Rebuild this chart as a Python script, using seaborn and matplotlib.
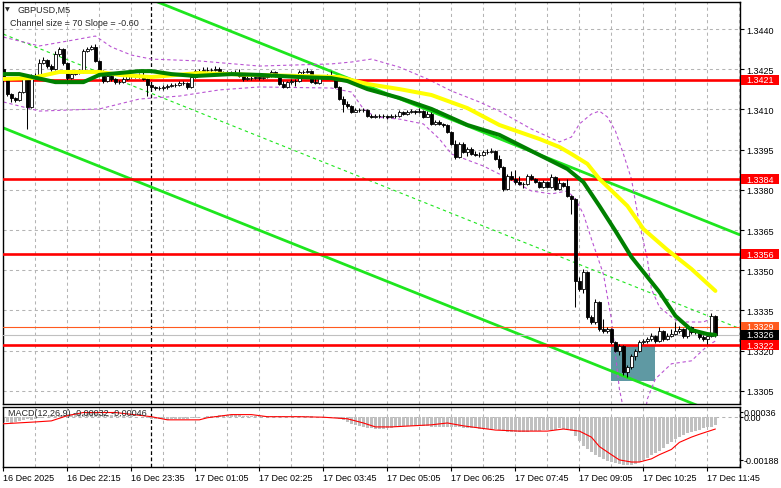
import numpy as np
import matplotlib
matplotlib.use("Agg")
import matplotlib.pyplot as plt
import matplotlib.transforms as mtransforms
from matplotlib.patches import Rectangle
import seaborn as sns

# -------------------------------------------------
# DATA  (GBPUSD M5, one bar per 5 minutes)
# -------------------------------------------------
first_open = 1.34251

close = [
    1.34214, 1.34158, 1.34143, 1.34135, 1.34165, 1.34214, 1.34110, 1.34225, 1.34221, 1.34273,
    1.34284, 1.34262, 1.34251, 1.34307, 1.34326, 1.34273, 1.34217, 1.34232, 1.34240, 1.34240,
    1.34318, 1.34326, 1.34333, 1.34281, 1.34243, 1.34206, 1.34225, 1.34214, 1.34202, 1.34202,
    1.34214, 1.34225, 1.34225, 1.34225, 1.34229, 1.34214, 1.34191, 1.34184, 1.34180, 1.34180,
    1.34184, 1.34187, 1.34191, 1.34191, 1.34199, 1.34199, 1.34184, 1.34221, 1.34243, 1.34243,
    1.34247, 1.34247, 1.34247, 1.34251, 1.34236, 1.34236, 1.34236, 1.34236, 1.34236, 1.34225,
    1.34214, 1.34217, 1.34217, 1.34221, 1.34217, 1.34221, 1.34225, 1.34240, 1.34225, 1.34195,
    1.34184, 1.34202, 1.34206, 1.34206, 1.34240, 1.34240, 1.34243, 1.34202, 1.34199, 1.34217,
    1.34221, 1.34225, 1.34221, 1.34184, 1.34139, 1.34120, 1.34113, 1.34091, 1.34098, 1.34098,
    1.34098, 1.34076, 1.34072, 1.34076, 1.34076, 1.34076, 1.34072, 1.34076, 1.34076, 1.34091,
    1.34083, 1.34091, 1.34094, 1.34091, 1.34094, 1.34072, 1.34083, 1.34046, 1.34053, 1.34046,
    1.34042, 1.34016, 1.33971, 1.33923, 1.33971, 1.33941, 1.33952, 1.33934, 1.33930, 1.33930,
    1.33941, 1.33941, 1.33945, 1.33915, 1.33885, 1.33803, 1.33852, 1.33841, 1.33829, 1.33822,
    1.33822, 1.33852, 1.33841, 1.33829, 1.33811, 1.33829, 1.33811, 1.33848, 1.33803, 1.33826,
    1.33815, 1.33777, 1.33766, 1.33460, 1.33430, 1.33494, 1.33326, 1.33307, 1.33382, 1.33281,
    1.33274, 1.33281, 1.33233, 1.33199, 1.33218, 1.33121, 1.33139, 1.33180, 1.33199, 1.33233,
    1.33236, 1.33244, 1.33255, 1.33236, 1.33274, 1.33244, 1.33255, 1.33262, 1.33274, 1.33281,
    1.33255, 1.33288, 1.33270, 1.33274, 1.33251, 1.33244, 1.33255, 1.33330, 1.33259,
]

high = [
    1.34258, 1.34217, 1.34161, 1.34147, 1.34169, 1.34217, 1.34221, 1.34232, 1.34236, 1.34288,
    1.34296, 1.34288, 1.34270, 1.34318, 1.34333, 1.34329, 1.34277, 1.34240, 1.34247, 1.34251,
    1.34326, 1.34333, 1.34340, 1.34344, 1.34284, 1.34247, 1.34232, 1.34229, 1.34217, 1.34210,
    1.34221, 1.34232, 1.34232, 1.34232, 1.34236, 1.34243, 1.34217, 1.34195, 1.34187, 1.34187,
    1.34191, 1.34195, 1.34199, 1.34199, 1.34206, 1.34206, 1.34202, 1.34229, 1.34251, 1.34251,
    1.34258, 1.34258, 1.34255, 1.34262, 1.34258, 1.34243, 1.34243, 1.34243, 1.34247, 1.34251,
    1.34229, 1.34225, 1.34225, 1.34229, 1.34225, 1.34229, 1.34232, 1.34247, 1.34243, 1.34229,
    1.34206, 1.34206, 1.34214, 1.34214, 1.34247, 1.34247, 1.34255, 1.34247, 1.34217, 1.34225,
    1.34229, 1.34232, 1.34243, 1.34225, 1.34187, 1.34150, 1.34132, 1.34117, 1.34106, 1.34106,
    1.34106, 1.34102, 1.34083, 1.34083, 1.34083, 1.34083, 1.34079, 1.34083, 1.34083, 1.34098,
    1.34094, 1.34098, 1.34102, 1.34098, 1.34106, 1.34098, 1.34094, 1.34091, 1.34061, 1.34061,
    1.34049, 1.34046, 1.34020, 1.33986, 1.33978, 1.33978, 1.33960, 1.33960, 1.33945, 1.33941,
    1.33949, 1.33952, 1.33956, 1.33949, 1.33930, 1.33889, 1.33859, 1.33870, 1.33874, 1.33852,
    1.33829, 1.33859, 1.33859, 1.33845, 1.33833, 1.33837, 1.33833, 1.33859, 1.33852, 1.33841,
    1.33829, 1.33841, 1.33781, 1.33770, 1.33475, 1.33505, 1.33497, 1.33333, 1.33393, 1.33385,
    1.33318, 1.33288, 1.33284, 1.33236, 1.33225, 1.33221, 1.33147, 1.33188, 1.33207, 1.33240,
    1.33244, 1.33251, 1.33266, 1.33259, 1.33288, 1.33277, 1.33266, 1.33281, 1.33307, 1.33292,
    1.33284, 1.33300, 1.33292, 1.33281, 1.33277, 1.33259, 1.33266, 1.33341, 1.33333,
]

low = [
    1.34202, 1.34150, 1.34128, 1.34128, 1.34132, 1.34161, 1.34027, 1.34106, 1.34214, 1.34217,
    1.34270, 1.34255, 1.34243, 1.34247, 1.34299, 1.34266, 1.34210, 1.34214, 1.34229, 1.34232,
    1.34236, 1.34314, 1.34322, 1.34277, 1.34236, 1.34199, 1.34202, 1.34206, 1.34195, 1.34195,
    1.34199, 1.34210, 1.34217, 1.34217, 1.34217, 1.34210, 1.34150, 1.34172, 1.34172, 1.34172,
    1.34172, 1.34176, 1.34184, 1.34184, 1.34187, 1.34191, 1.34176, 1.34180, 1.34217, 1.34236,
    1.34240, 1.34240, 1.34240, 1.34243, 1.34232, 1.34229, 1.34229, 1.34229, 1.34229, 1.34221,
    1.34206, 1.34210, 1.34210, 1.34214, 1.34210, 1.34214, 1.34217, 1.34221, 1.34221, 1.34191,
    1.34180, 1.34180, 1.34195, 1.34187, 1.34202, 1.34232, 1.34236, 1.34199, 1.34195, 1.34195,
    1.34214, 1.34217, 1.34217, 1.34180, 1.34135, 1.34091, 1.34106, 1.34087, 1.34091, 1.34091,
    1.34091, 1.34072, 1.34068, 1.34068, 1.34068, 1.34068, 1.34064, 1.34068, 1.34068, 1.34072,
    1.34079, 1.34079, 1.34087, 1.34083, 1.34087, 1.34068, 1.34072, 1.34042, 1.34042, 1.34042,
    1.34035, 1.34012, 1.33967, 1.33915, 1.33919, 1.33938, 1.33926, 1.33930, 1.33926, 1.33923,
    1.33926, 1.33934, 1.33938, 1.33911, 1.33878, 1.33796, 1.33800, 1.33837, 1.33822, 1.33818,
    1.33807, 1.33818, 1.33837, 1.33826, 1.33807, 1.33807, 1.33807, 1.33807, 1.33800, 1.33800,
    1.33811, 1.33773, 1.33710, 1.33363, 1.33423, 1.33415, 1.33318, 1.33300, 1.33300, 1.33274,
    1.33266, 1.33266, 1.33225, 1.33195, 1.33184, 1.33109, 1.33102, 1.33132, 1.33165, 1.33195,
    1.33225, 1.33229, 1.33236, 1.33229, 1.33233, 1.33236, 1.33240, 1.33251, 1.33259, 1.33266,
    1.33248, 1.33248, 1.33262, 1.33262, 1.33244, 1.33236, 1.33225, 1.33251, 1.33251,
]

# moving averages (bar index, price)
ma_slow_bar = [0, 7, 14, 24, 29, 37, 49, 62, 74, 84, 91, 99, 107, 116, 124, 134, 139, 142, 146,
               149, 156, 160, 166, 172, 178]
ma_slow = [1.34214, 1.34217, 1.34240, 1.34240, 1.34229, 1.34221, 1.34236, 1.34229, 1.34225,
           1.34221, 1.34195, 1.34176, 1.34154, 1.34105, 1.34042, 1.33990, 1.33960, 1.33934,
           1.33897, 1.33841, 1.33740, 1.33654, 1.33576, 1.33505, 1.33423]

ma_fast_bar = [0, 4, 13, 20, 24, 34, 37, 42, 48, 57, 64, 74, 82, 86, 91, 99, 107, 116, 124, 132,
               141, 145, 149, 153, 157, 164, 168, 172, 176, 178]
ma_fast = [1.34232, 1.34232, 1.34202, 1.34202, 1.34229, 1.34243, 1.34243, 1.34232, 1.34225,
           1.34232, 1.34229, 1.34221, 1.34217, 1.34206, 1.34176, 1.34143, 1.34102, 1.34042,
           1.34005, 1.33945, 1.33878, 1.33829, 1.33740, 1.33647, 1.33550, 1.33419, 1.33330,
           1.33277, 1.33262, 1.33259]

# bands (bar index, price)
band_up_bar = [0, 9, 19, 23, 27, 32, 37, 49, 64, 82, 87, 92, 99, 106, 112, 119, 124, 132, 139,
               142, 144, 147, 149, 151, 153, 155, 157, 159, 161, 162, 164, 167, 169, 175, 178]
band_up = [1.34370, 1.34337, 1.34363, 1.34374, 1.34333, 1.34303, 1.34288, 1.34281, 1.34262,
           1.34270, 1.34277, 1.34288, 1.34258, 1.34214, 1.34169, 1.34128, 1.34094, 1.34027,
           1.33979, 1.33997, 1.34046, 1.34083, 1.34094, 1.34072, 1.34020, 1.33934, 1.33841,
           1.33673, 1.33542, 1.33430, 1.33363, 1.33326, 1.33307, 1.33307, 1.33326]

band_dn_bar = [0, 9, 24, 34, 44, 54, 64, 82, 87, 90, 93, 99, 105, 109, 112, 120, 124, 132, 137,
               141, 143, 145, 147, 150, 152, 154, 156, 158, 160, 161, 163, 167, 172, 176, 178]
band_dn = [1.34128, 1.34094, 1.34102, 1.34139, 1.34150, 1.34173, 1.34184, 1.34180, 1.34165,
           1.34102, 1.34072, 1.34064, 1.34046, 1.33990, 1.33934, 1.33889, 1.33859, 1.33796,
           1.33785, 1.33796, 1.33766, 1.33710, 1.33617, 1.33486, 1.33318, 1.33057, 1.32908,
           1.32871, 1.32927, 1.33020, 1.33095, 1.33151, 1.33162, 1.33218, 1.33236]

# price channel (ends)
channel_bar = [0, 184]
channel_top = [1.34731, 1.33633]
channel_mid = [1.34381, 1.33283]
channel_bot = [1.34031, 1.32933]

levels = [1.3421, 1.3384, 1.3356, 1.3322]
ask_price = 1.3329
bid_price = 1.3326
zone_bars = [152, 163]
zone_prices = [1.33087, 1.33222]
day_start_bar = 37

price_ticks = [1.3440, 1.3425, 1.3410, 1.3395, 1.3380, 1.3365, 1.3350, 1.3335, 1.3320, 1.3305]
time_bars = [0, 16, 32, 48, 64, 80, 96, 112, 128, 144, 160, 176]
time_labels = ["16 Dec 2025", "16 Dec 22:15", "16 Dec 23:35", "17 Dec 01:05", "17 Dec 02:25",
               "17 Dec 03:45", "17 Dec 05:05", "17 Dec 06:25", "17 Dec 07:45", "17 Dec 09:05",
               "17 Dec 10:25", "17 Dec 11:45"]

# MACD main values (1e-5 units) and signal line
macd_hist = np.array([
    -20, -22, -24, -22, -18, -14, -10, -12, -8, -5, -2, 0, 2,
    4, 6, 8, 9, 10, 11, 12, 12, 14, 15,
    14, 12, 10, 8, 6, 5, 4, 3,
    2, 1, 0, -1, -3, -5,
    -8, -9, -10, -10, -11, -10, -10, -9, -8, -7, -6, -4,
    -2, 0, 2, 3, 4, 5, 6, 6, 6, 5, 5, 4,
    4, 3, 3, 3, 2, 2, 2, 1, 1, 1, 0, 0, 1, 1, 1,
    1, 1, 0, 0, 0, 0, -1,
    -4, -8, -14, -20, -26, -30, -34,
    -39, -42, -45, -47, -47, -46, -44, -42,
    -40, -38, -37, -36, -35, -35, -35, -36, -37, -38, -38, -39, -39, -40,
    -40, -41, -41, -42, -43,
    -44, -45, -46, -46, -47, -47, -48,
    -52, -55, -57, -58, -59, -59, -58, -57, -55,
    -54, -53, -52, -52, -51, -51,
    -45, -46, -48, -55, -75, -92, -110, -125, -136, -145, -155, -162, -168, -173, -176, -180,
    -183, -186, -186, -181, -174, -165, -157, -148, -140, -131, -119, -106, -96, -86, -77, -70,
    -63, -58, -55, -49, -45, -41, -38, -32,
]) * 1e-5

signal_bar = [0, 8, 12, 16, 20, 28, 37, 41, 49, 51, 57, 62, 66, 74, 80, 86, 90, 93, 97, 102,
              107, 111, 115, 119, 123, 129, 136, 140, 144, 147, 149, 152, 154, 157, 159, 162,
              164, 167, 169, 172, 174, 178]
signal = [-0.00027, -0.00020, -0.00016, 0.00004, 0.00016, 0.00016, 0.0, -0.00012, -0.00012,
          -0.00004, 0.00008, 0.00008, 0.0, 0.0, -0.00002, -0.00008, -0.00024, -0.00039,
          -0.00039, -0.00035, -0.00031, -0.00024, -0.00035, -0.00043, -0.00051, -0.00055,
          -0.00055, -0.00047, -0.00055, -0.00078, -0.00114, -0.00145, -0.00165, -0.00173,
          -0.00173, -0.00161, -0.00145, -0.00125, -0.00098, -0.00078, -0.00067, -0.00047]

# -------------------------------------------------
# STYLE
# -------------------------------------------------
sns.set_theme(style="white")
plt.rcParams["font.family"] = ["Liberation Sans", "DejaVu Sans"]
FS = 6.5
GRID = "#B4B4B4"

fig = plt.figure(figsize=(7.81, 4.89), dpi=100)
W, H = 781, 489
ax = fig.add_axes([3 / W, 1 - 405 / H, 737 / W, 402 / H])
ax2 = fig.add_axes([3 / W, 1 - 468 / H, 737 / W, 60 / H])

xlim = (-0.1, 184.15)
for a in (ax, ax2):
    a.set_xlim(*xlim)
    a.set_facecolor("white")
    for s in a.spines.values():
        s.set_color("black")
        s.set_linewidth(1.0)
    for gx in range(0, 185, 8):
        a.axvline(gx, color=GRID, lw=0.75, ls=(0, (3, 3)), zorder=0)
    a.axvline(day_start_bar, color="black", lw=0.9, ls=(0, (3, 2)), zorder=1)

ax.set_ylim(1.33001, 1.34501)
for p in price_ticks:
    ax.axhline(p, color=GRID, lw=0.75, ls=(0, (3, 3)), zorder=0)

# zone box
ax.add_patch(Rectangle((zone_bars[0], zone_prices[0]), zone_bars[1] - zone_bars[0],
                       zone_prices[1] - zone_prices[0], facecolor="#5F99A3",
                       edgecolor="none", zorder=1))

# channel
sns.lineplot(x=channel_bar, y=channel_top, ax=ax, color="#1EE61E", lw=2.0, zorder=2)
sns.lineplot(x=channel_bar, y=channel_bot, ax=ax, color="#1EE61E", lw=2.0, zorder=2)
sns.lineplot(x=channel_bar, y=channel_mid, ax=ax, color="#1EE61E", lw=0.8,
             linestyle=(0, (3, 3)), zorder=2)

# bands
sns.lineplot(x=band_up_bar, y=band_up, ax=ax, color="#BA55D3", lw=0.8,
             linestyle=(0, (3, 2.5)), zorder=2)
sns.lineplot(x=band_dn_bar, y=band_dn, ax=ax, color="#BA55D3", lw=0.8,
             linestyle=(0, (3, 2.5)), zorder=2)

# levels
for lv in levels:
    ax.axhline(lv, color="#FF0000", lw=1.9, zorder=3)
ax.axhline(ask_price, color="#FF5A1E", lw=0.8, zorder=3)
ax.axhline(bid_price, color="#C0C0C0", lw=0.8, zorder=3)

# candles
close = np.array(close)
opens = np.r_[first_open, close[:-1]]
bars = np.arange(len(close))
up = close >= opens
ax.vlines(bars, low, high, color="black", lw=0.75, zorder=4)
body_lo = np.minimum(opens, close)
body_h = np.maximum(np.abs(close - opens), 0.000012)
ax.bar(bars, body_h, bottom=body_lo, width=0.72, color=np.where(up, "white", "black"),
       edgecolor="black", linewidth=0.6, zorder=5)

# moving averages
sns.lineplot(x=ma_slow_bar, y=ma_slow, ax=ax, color="#FFFF00", lw=2.9, zorder=6)
sns.lineplot(x=ma_fast_bar, y=ma_fast, ax=ax, color="#008000", lw=2.9, zorder=6)

ax.yaxis.tick_right()
ax.set_yticks(price_ticks)
ax.set_yticklabels([f"{p:.4f}" for p in price_ticks])
ax.tick_params(axis="y", direction="out", length=2.9, width=0.8, pad=2.0,
               labelsize=FS, colors="black", right=True)
ax.tick_params(axis="x", bottom=False, labelbottom=False)
ax.set_xlabel("")
ax.set_ylabel("")


def price_box(axis, level, text, face, txt="white"):
    trans = mtransforms.blended_transform_factory(axis.transAxes, axis.transData)
    h = 0.00037
    axis.add_patch(Rectangle((1.002, level - h / 2), 0.0509, h, transform=trans,
                             facecolor=face, edgecolor="none", clip_on=False, zorder=8))
    axis.text(1.0085, level, text, transform=trans, ha="left", va="center",
              color=txt, fontsize=FS, clip_on=False, zorder=9)


for lv in levels:
    price_box(ax, lv, f"{lv:.4f}", "#FF0000")
price_box(ax, ask_price, f"{ask_price:.4f}", "#FF5A1E")
price_box(ax, bid_price, f"{bid_price:.4f}", "#000000")

# -------------------------------------------------
# MACD
# -------------------------------------------------
ax2.set_ylim(-0.00192, 0.00037)
ax2.axhline(0, color=GRID, lw=0.75, ls=(0, (3, 3)), zorder=0)
ax2.bar(np.arange(len(macd_hist)), macd_hist, width=0.78, color="#C0C0C0",
        edgecolor="none", zorder=2)
sns.lineplot(x=signal_bar, y=signal, ax=ax2, color="#FF0000", lw=0.8, zorder=3)
ax2.yaxis.tick_right()
ax2.set_yticks([0.00018, 0.0, -0.00165])
ax2.set_yticklabels(["0.00036", "0.00", "-0.00188"])
ax2.tick_params(axis="y", direction="out", length=2.2, width=0.8, pad=0.6,
                labelsize=FS, colors="black", right=True)
ax2.set_xticks(time_bars)
ax2.set_xticklabels(time_labels, ha="left")
ax2.tick_params(axis="x", direction="out", length=3, width=0.8, pad=1.5,
                labelsize=FS, colors="black", bottom=True)
ax2.set_xlabel("")
ax2.set_ylabel("")

# -------------------------------------------------
# HEADERS
# -------------------------------------------------
fig.text(5 / W, 1 - 10 / H, "\u25BC", fontsize=4.5, va="center", ha="left",
         family=["DejaVu Sans"])
fig.text(17 / W, 1 - 10 / H, "GBPUSD,M5", fontsize=FS, va="center", ha="left")
fig.text(10 / W, 1 - 23 / H, "Channel size = 70 Slope = -0.60", fontsize=FS,
         va="center", ha="left")
fig.text(8 / W, 1 - 414 / H, "MACD(12,26,9) -0.00032 -0.00046", fontsize=FS,
         va="center", ha="left", zorder=10)

fig.savefig("out.png", dpi=100, facecolor="white")
